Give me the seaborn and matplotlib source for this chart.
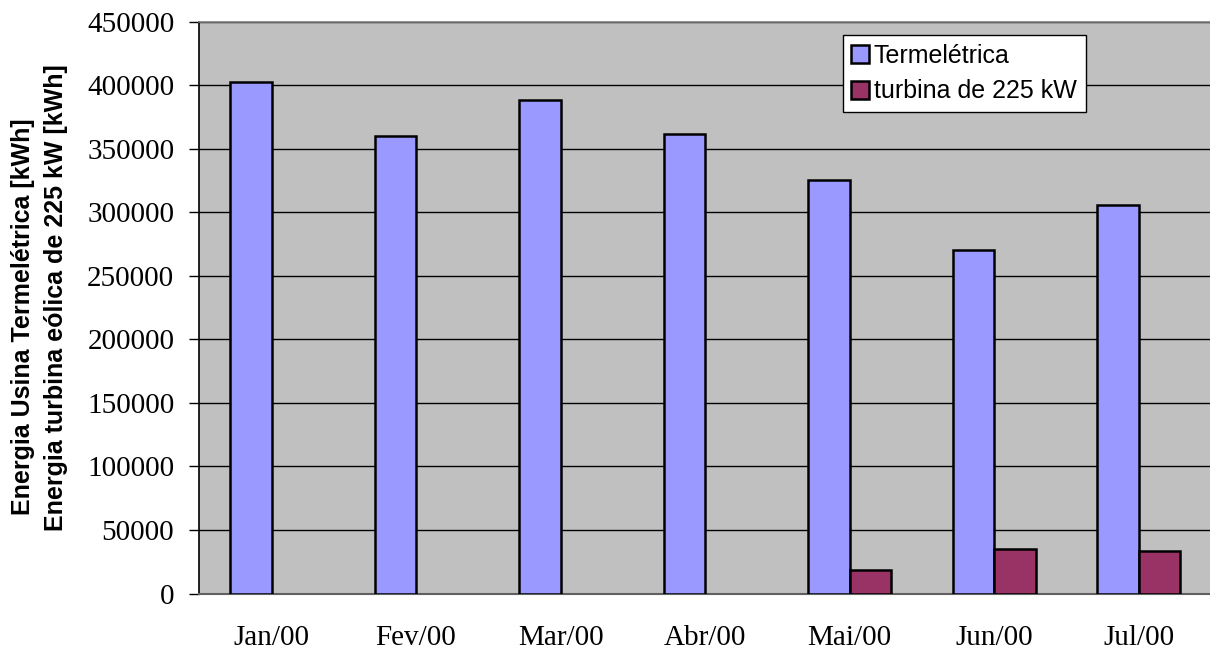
import numpy as np
import pandas as pd
import matplotlib
matplotlib.use("Agg")
import matplotlib.pyplot as plt
import seaborn as sns

# data
months = ["Jan/00", "Fev/00", "Mar/00", "Abr/00", "Mai/00", "Jun/00", "Jul/00"]
termeletrica = [403000, 360500, 388600, 361800, 325600, 270500, 305900]
turbina = [np.nan, np.nan, np.nan, np.nan, 18500, 35000, 33700]
series_names = ["Termelétrica", "turbina de 225 kW"]
series_colors = ["#9999FF", "#993366"]
y_ticks = list(range(0, 450001, 50000))
ylabel_lines = ["Energia Usina Termelétrica [kWh]", "Energia turbina eólica de 225 kW [kWh]"]

df = pd.DataFrame({
    "mes": months * 2,
    "serie": [series_names[0]] * len(months) + [series_names[1]] * len(months),
    "energia": termeletrica + turbina,
})

sns.set_theme(style="white")
plt.rcParams["font.family"] = ["Liberation Serif", "DejaVu Serif"]
plt.rcParams["text.color"] = "black"
plt.rcParams["axes.labelcolor"] = "black"
plt.rcParams["xtick.color"] = "black"
plt.rcParams["ytick.color"] = "black"
sans = ["Liberation Sans", "DejaVu Sans"]

fig = plt.figure(figsize=(12.1, 6.5), dpi=100)
ax = fig.add_axes([199.3 / 1210, 1 - 593.5 / 650, 1011.5 / 1210, 571.7 / 650])

sns.barplot(data=df, x="mes", y="energia", hue="serie", order=months,
            hue_order=series_names, palette=series_colors, width=0.575,
            edgecolor="black", linewidth=1.8, saturation=1, ax=ax, zorder=3)

ax.set_facecolor("#C0C0C0")
ax.set_ylim(0, 450000)
ax.set_xlim(-0.5, len(months) - 0.5)
ax.set_yticks(y_ticks)
ax.set_yticklabels([str(v) for v in y_ticks])
ax.yaxis.grid(True, color="black", linewidth=1.0, zorder=0)
ax.set_axisbelow(True)

# category separators as ticks
ax.set_xticks(np.arange(-0.5, len(months), 1.0), minor=True)
ax.tick_params(axis="x", which="minor", length=7.5, width=1, color="black", direction="out")
ax.tick_params(axis="x", which="major", length=0, pad=23, labelsize=21, labelcolor="black")
ax.tick_params(axis="y", which="major", length=7, width=1, color="black",
               direction="out", pad=11, labelsize=21, left=True, labelcolor="black")

ax.spines["left"].set_color("black")
ax.spines["left"].set_linewidth(1.2)
ax.spines["bottom"].set_color("#606060")
ax.spines["bottom"].set_linewidth(1.5)
ax.spines["top"].set_color("#808080")
ax.spines["top"].set_linewidth(1.2)
ax.spines["right"].set_visible(False)

ax.set_xlabel("")
ax.set_ylabel("")
# two-line axis title, each line placed like the original
fig.text(23 / 1210, 1 - 316.5 / 650, ylabel_lines[0], rotation=90, ha="center", va="center",
         fontsize=18, fontweight="bold", family=sans, color="black")
fig.text(56.5 / 1210, 1 - 298 / 650, ylabel_lines[1], rotation=90, ha="center", va="center",
         fontsize=18, fontweight="bold", family=sans, color="black")

handles, labels = ax.get_legend_handles_labels()
leg = ax.legend(handles, labels, loc="upper left", bbox_to_anchor=(842.7 / 1210, 1 - 35 / 650),
                bbox_transform=fig.transFigure, borderaxespad=0, frameon=True, fancybox=False,
                edgecolor="black", facecolor="white", framealpha=1,
                prop={"family": sans, "size": 18},
                handlelength=0.7, handleheight=0.7, handletextpad=0.2,
                borderpad=0.35, labelspacing=0.47)
leg.get_frame().set_linewidth(1.0)
for t in leg.get_texts():
    t.set_color("black")

fig.savefig("out.png", dpi=100)
